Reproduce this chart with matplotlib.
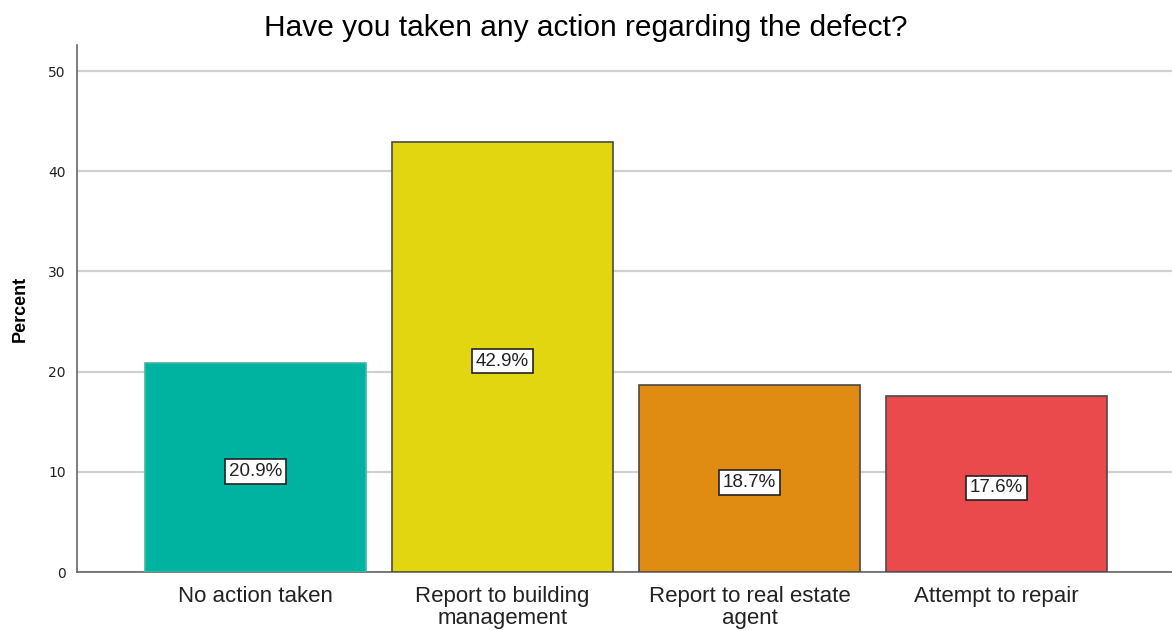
import matplotlib
matplotlib.use("Agg")
import matplotlib.pyplot as plt
import numpy as np

categories = ["No action taken", "Report to building\nmanagement",
              "Report to real estate\nagent", "Attempt to repair"]
percent = [20.9, 42.9, 18.7, 17.6]
colors = ["#00b2a0", "#e1d60f", "#e08b12", "#eb4a4c"]
edges = ["#3fb8a8", "#4a4a4a", "#4a4a4a", "#4a4a4a"]
yticks = [0, 10, 20, 30, 40, 50]

plt.rcParams.update({"font.family": ["Liberation Sans", "DejaVu Sans"]})
fig = plt.figure(figsize=(11.72, 6.3), dpi=100)
ax = fig.add_axes([0.0657, 0.092, 0.9343, 0.8366])

x = np.arange(len(categories))
ax.bar(x, percent, width=0.895, color=colors, edgecolor=edges, linewidth=1.2, zorder=3)
for xi, v in zip(x, percent):
    ax.text(xi, v / 2 - 0.4, f"{v}%", ha="center", va="center", fontsize=13.5, color="#222222",
            bbox=dict(boxstyle="square,pad=0.2", fc="white", ec="#222222", lw=1.2), zorder=4)

ax.set_xlim(-0.7227, 3.71)
ax.set_ylim(0, 52.6)
ax.set_yticks(yticks)
ax.set_yticklabels([str(t) for t in yticks], fontsize=10, family="DejaVu Sans", color="#222222")
ax.set_xticks(x)
ax.set_xticklabels(categories, fontsize=16, color="#222222", linespacing=1.05)
ax.tick_params(axis="both", length=0, pad=8)
ax.tick_params(axis="x", pad=10)
ax.yaxis.grid(True, color="#d0d0d0", lw=1.6, zorder=0)
ax.set_axisbelow(True)
for s in ["top", "right"]:
    ax.spines[s].set_visible(False)
for s in ["left", "bottom"]:
    ax.spines[s].set_color("#666666")
    ax.spines[s].set_linewidth(1.2)
ax.set_ylabel("Percent", fontsize=13, fontweight="bold", labelpad=14)
fig.suptitle("Have you taken any action regarding the defect?", fontsize=21.5, x=0.5, y=0.978)

fig.savefig("out.png", dpi=100)
